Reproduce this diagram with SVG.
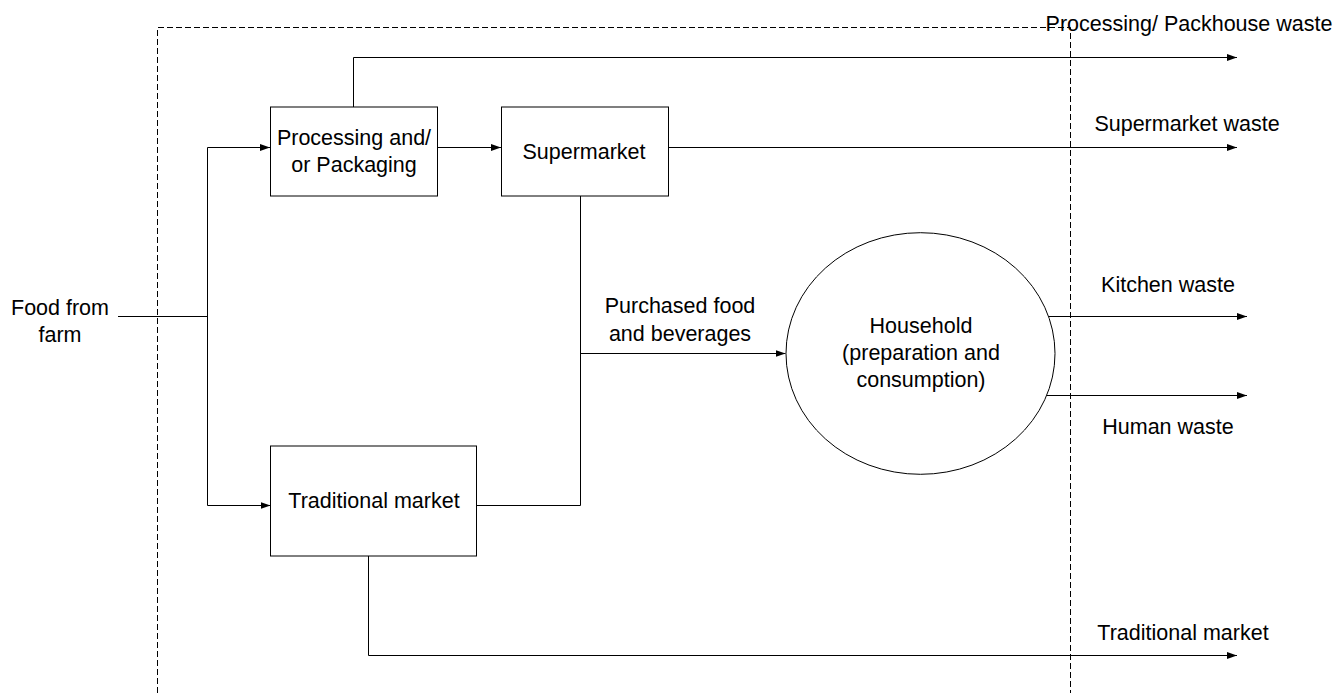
<svg xmlns="http://www.w3.org/2000/svg" width="1338" height="693" viewBox="0 0 1338 693">
<style>
.box{fill:#fff;stroke:#000;stroke-width:1}
.ln{fill:none;stroke:#000;stroke-width:1}
.dash{fill:none;stroke:#000;stroke-width:1;stroke-dasharray:6,3}
text{font-family:"Liberation Sans",Arial,sans-serif;font-size:21.5px;fill:#000;text-anchor:middle}
</style>
<defs>
<marker id="ah" markerWidth="10" markerHeight="8" refX="10" refY="4" orient="auto" markerUnits="userSpaceOnUse">
<path d="M0,0.5 L10,4 L0,7.5 z" fill="#000"/>
</marker>
</defs>
<rect width="1338" height="693" fill="#fff"/>
<g id="boundary">
<path class="dash" d="M157.5,693 V27.5 H1070.5 V693"/>
</g>
<g id="connectors">
<path class="ln" d="M118,316.5 H207.5"/>
<path class="ln" d="M207.5,505.5 V147.5 H270" marker-end="url(#ah)"/>
<path class="ln" d="M207.5,505.5 H270.5" marker-end="url(#ah)"/>
<path class="ln" d="M437,147.5 H501" marker-end="url(#ah)"/>
<path class="ln" d="M353.5,107 V57.5 H1237" marker-end="url(#ah)"/>
<path class="ln" d="M668,147.5 H1237" marker-end="url(#ah)"/>
<path class="ln" d="M580.5,196 V505.5 H477"/>
<path class="ln" d="M580.5,353.5 H785.5" marker-end="url(#ah)"/>
<path class="ln" d="M1049,316.5 H1247" marker-end="url(#ah)"/>
<path class="ln" d="M1047,395.5 H1247" marker-end="url(#ah)"/>
<path class="ln" d="M368.5,556 V655.5 H1237" marker-end="url(#ah)"/>
</g>
<g id="food-from-farm">
<text x="60" y="315">Food from</text>
<text x="60" y="342">farm</text>
</g>
<g id="processing">
<rect class="box" x="270.5" y="107" width="167" height="89"/>
<text x="354" y="145">Processing and/</text>
<text x="354" y="172">or Packaging</text>
</g>
<g id="supermarket">
<rect class="box" x="501.5" y="107" width="167" height="89"/>
<text x="584" y="159">Supermarket</text>
</g>
<g id="traditional">
<rect class="box" x="270.5" y="446" width="206" height="110"/>
<text x="374" y="508">Traditional market</text>
</g>
<g id="household">
<ellipse class="box" cx="920.5" cy="353.5" rx="134.5" ry="120.8"/>
<text x="921" y="333">Household</text>
<text x="921" y="360">(preparation and</text>
<text x="921" y="387">consumption)</text>
</g>
<g id="labels">
<text x="680" y="313">Purchased food</text>
<text x="680" y="341">and beverages</text>
<text x="1189" y="31">Processing/ Packhouse waste</text>
<text x="1187" y="131">Supermarket waste</text>
<text x="1168" y="292">Kitchen waste</text>
<text x="1168" y="434">Human waste</text>
<text x="1183" y="640">Traditional market</text>
</g>
</svg>
